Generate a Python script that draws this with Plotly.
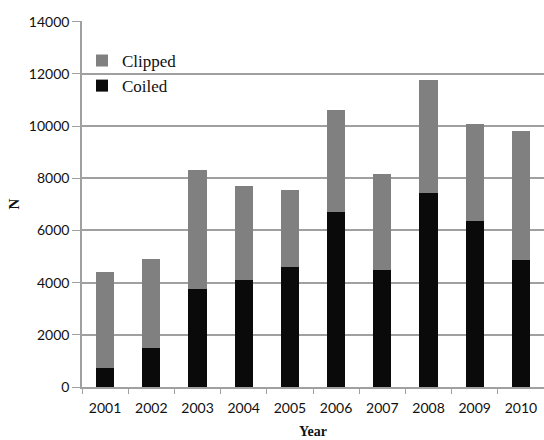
import plotly.graph_objects as go

years = ["2001", "2002", "2003", "2004", "2005", "2006", "2007", "2008", "2009", "2010"]
coiled = [730, 1500, 3770, 4090, 4600, 6700, 4470, 7420, 6350, 4880]
clipped = [3670, 3400, 4560, 3630, 2960, 3920, 3700, 4330, 3730, 4920]
y_ticks = [0, 2000, 4000, 6000, 8000, 10000, 12000, 14000]
y_tick_text = [str(v) for v in y_ticks]

fig = go.Figure()
fig.add_trace(go.Bar(x=years, y=coiled, name="Coiled", marker=dict(color="#0a0a0a", line=dict(width=0)), legendgroup="b", legendrank=2))
fig.add_trace(go.Bar(x=years, y=clipped, name="Clipped", marker=dict(color="#808080", line=dict(width=0)), legendgroup="a", legendrank=1))

# white patch hiding the gridline behind the legend (between gridlines and bars)
fig.add_shape(type="rect", xref="paper", yref="paper", x0=0.005, x1=0.19, y0=0.83, y1=0.885,
              fillcolor="white", line=dict(width=0), layer="between")

fig.update_layout(
    width=544, height=440,
    barmode="stack", bargap=0.61,
    plot_bgcolor="white", paper_bgcolor="white",
    margin=dict(l=82, r=0, t=21, b=53),
    font=dict(family="Lato", size=13, color="#111111"),
    showlegend=True,
    legend=dict(x=0.0, y=0.94, xanchor="left", yanchor="top",
                bgcolor="rgba(0,0,0,0)",
                font=dict(family="Liberation Serif", size=17, color="#111111"),
                traceorder="normal", tracegroupgap=8, itemwidth=30),
    xaxis=dict(type="category", showgrid=False, showline=True, linecolor="#a0a0a0", linewidth=1.5,
               ticks="outside", tickson="boundaries", ticklen=5, tickcolor="#a0a0a0",
               ticklabelstandoff=7, tickangle=0,
               tickfont=dict(family="Lato", size=14, color="#111111"),
               title=dict(text="<b>Year</b>", font=dict(family="Liberation Serif", size=14, color="#111111"), standoff=12)),
    yaxis=dict(range=[0, 14030], tickvals=y_ticks, ticktext=y_tick_text, showgrid=True, gridcolor="#a0a0a0", gridwidth=1.5,
               showline=True, linecolor="#a0a0a0", linewidth=1.5, ticks="outside", ticklen=8, tickcolor="#a0a0a0",
               zeroline=False, tickfont=dict(family="Lato", size=14, color="#111111"),
               title=dict(text="<b>N</b>", font=dict(family="Liberation Serif", size=15, color="#111111"), standoff=6)),
)
fig.write_html("out.html", config={"displayModeBar": False}, post_script="document.body.style.margin='0';")
